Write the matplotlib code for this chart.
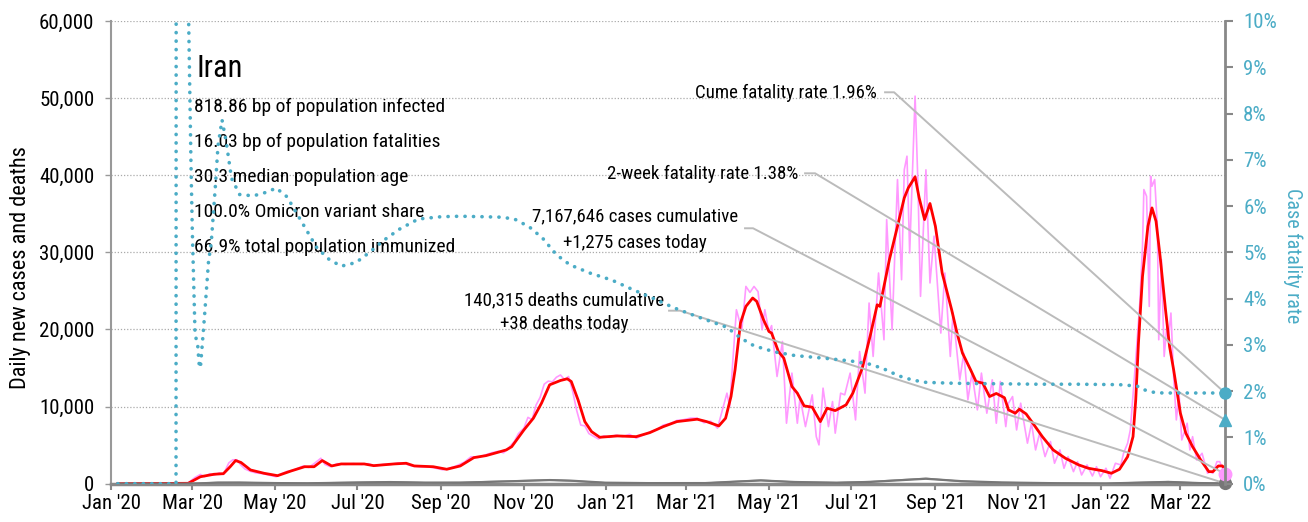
import matplotlib
matplotlib.use("Agg")
import matplotlib.pyplot as plt
import matplotlib.dates as mdates
from matplotlib import font_manager as fm
from matplotlib.ticker import FuncFormatter, MultipleLocator
import pandas as pd

# pick a narrow sans face if one is installed
entries = fm.fontManager.ttflist
names = {e.name for e in entries}
font_name, font_stretch = "Roboto", "normal"
for cand in ["Roboto Condensed", "Liberation Sans Narrow", "Noto Sans Condensed",
             "Open Sans Condensed", "DejaVu Sans Condensed"]:
    if cand in names:
        font_name = cand
        break
else:
    for pref in ["Noto Sans", "Open Sans", "Roboto", "DejaVu Sans"]:
        hits = [e for e in entries if e.name == pref and e.style == "normal"
                and e.stretch in ("condensed", "semi-condensed")]
        if hits:
            font_name, font_stretch = pref, hits[0].stretch
            break
plt.rcParams['font.family'] = [font_name, 'DejaVu Sans']
plt.rcParams['font.stretch'] = font_stretch

# 7-day average of daily new cases
avg_dates = [
    "2020-01-06", "2020-02-27", "2020-03-07", "2020-03-17", "2020-03-24", "2020-03-29", "2020-04-02",
    "2020-04-06", "2020-04-13", "2020-04-23", "2020-05-03", "2020-05-13", "2020-05-23", "2020-05-30",
    "2020-06-05", "2020-06-12", "2020-06-19", "2020-07-06", "2020-07-13", "2020-07-28", "2020-08-06",
    "2020-08-12", "2020-08-26", "2020-09-05", "2020-09-15", "2020-09-25", "2020-10-04", "2020-10-12",
    "2020-10-19", "2020-10-23", "2020-11-01", "2020-11-08", "2020-11-14", "2020-11-20", "2020-11-28",
    "2020-12-03", "2020-12-06", "2020-12-11", "2020-12-16", "2020-12-21", "2020-12-27", "2021-01-09",
    "2021-01-23", "2021-02-02", "2021-02-12", "2021-02-22", "2021-03-09", "2021-03-16", "2021-03-25",
    "2021-03-30", "2021-04-03", "2021-04-06", "2021-04-10", "2021-04-14", "2021-04-19", "2021-04-22",
    "2021-04-27", "2021-05-01", "2021-05-03", "2021-05-08", "2021-05-12", "2021-05-18", "2021-05-22",
    "2021-05-27", "2021-06-02", "2021-06-08", "2021-06-13", "2021-06-19", "2021-06-27", "2021-07-02",
    "2021-07-09", "2021-07-15", "2021-07-20", "2021-07-22", "2021-07-29", "2021-08-04", "2021-08-09",
    "2021-08-12", "2021-08-17", "2021-08-20", "2021-08-24", "2021-08-28", "2021-09-01", "2021-09-06",
    "2021-09-13", "2021-09-17", "2021-09-21", "2021-09-27", "2021-10-01", "2021-10-06", "2021-10-11",
    "2021-10-16", "2021-10-22", "2021-10-25", "2021-10-30", "2021-11-02", "2021-11-07", "2021-11-12",
    "2021-11-19", "2021-11-27", "2021-12-06", "2021-12-16", "2021-12-23", "2022-01-02", "2022-01-09",
    "2022-01-15", "2022-01-21", "2022-01-25", "2022-01-27", "2022-01-29", "2022-02-01", "2022-02-05",
    "2022-02-08", "2022-02-11", "2022-02-14", "2022-02-18", "2022-02-21", "2022-02-24", "2022-03-01",
    "2022-03-05", "2022-03-10", "2022-03-16", "2022-03-22", "2022-03-25", "2022-03-29", "2022-04-01",
    "2022-04-03",
]
avg_cases = [
    0, 50, 900, 1220, 1300, 2200, 3000,
    2750, 1780, 1350, 1040, 1650, 2200, 2200,
    3000, 2300, 2560, 2560, 2340, 2560, 2650,
    2300, 2200, 1870, 2300, 3380, 3640, 4030,
    4380, 4800, 6970, 8490, 10440, 12820, 13380,
    13600, 13250, 10870, 8050, 6750, 6020, 6190,
    6100, 6620, 7400, 8050, 8360, 8050, 7490,
    8490, 11300, 14770, 20830, 22990, 24080, 23640,
    21260, 19740, 19530, 17140, 16280, 12600, 11740,
    10090, 9920, 8050, 9790, 9480, 10220, 11740,
    14990, 19300, 23200, 22990, 29050, 33380, 37060,
    38360, 39790, 37060, 34250, 36330, 33380, 27320,
    22560, 19530, 16930, 14770, 13250, 13040, 11300,
    11700, 11150, 9570, 9140, 9660, 9050, 7840,
    6100, 4380, 3300, 2430, 2000, 1690, 1350,
    1870, 3500, 6100, 10870, 18230, 26880, 33380,
    35760, 34030, 29480, 22560, 17790, 14770, 9140,
    6550, 4800, 3080, 1560, 1560, 2300, 2300,
    1900,
]

# reported daily new cases
raw_dates = [
    "2020-01-06", "2020-02-19", "2020-02-27", "2020-03-03", "2020-03-07", "2020-03-10", "2020-03-14",
    "2020-03-17", "2020-03-21", "2020-03-24", "2020-03-28", "2020-03-31", "2020-04-03", "2020-04-06",
    "2020-04-09", "2020-04-13", "2020-04-17", "2020-04-22", "2020-04-27", "2020-05-02", "2020-05-06",
    "2020-05-10", "2020-05-14", "2020-05-18", "2020-05-22", "2020-05-26", "2020-05-30", "2020-06-04",
    "2020-06-07", "2020-06-11", "2020-06-16", "2020-06-22", "2020-06-28", "2020-07-04", "2020-07-09",
    "2020-07-14", "2020-07-20", "2020-07-26", "2020-07-31", "2020-08-05", "2020-08-10", "2020-08-16",
    "2020-08-22", "2020-08-28", "2020-09-02", "2020-09-07", "2020-09-12", "2020-09-18", "2020-09-23",
    "2020-09-28", "2020-10-03", "2020-10-08", "2020-10-13", "2020-10-17", "2020-10-21", "2020-10-25",
    "2020-10-28", "2020-11-01", "2020-11-04", "2020-11-07", "2020-11-10", "2020-11-13", "2020-11-16",
    "2020-11-19", "2020-11-22", "2020-11-25", "2020-11-28", "2020-12-01", "2020-12-04", "2020-12-07",
    "2020-12-10", "2020-12-13", "2020-12-16", "2020-12-19", "2020-12-22", "2020-12-26", "2020-12-30",
    "2021-01-03", "2021-01-08", "2021-01-13", "2021-01-18", "2021-01-23", "2021-01-28", "2021-02-02",
    "2021-02-07", "2021-02-12", "2021-02-17", "2021-02-22", "2021-02-27", "2021-03-04", "2021-03-09",
    "2021-03-14", "2021-03-19", "2021-03-24", "2021-03-28", "2021-03-31", "2021-04-02", "2021-04-07",
    "2021-04-11", "2021-04-14", "2021-04-17", "2021-04-20", "2021-04-23", "2021-04-26", "2021-04-28",
    "2021-05-01", "2021-05-03", "2021-05-07", "2021-05-11", "2021-05-14", "2021-05-18", "2021-05-22",
    "2021-05-24", "2021-05-28", "2021-06-02", "2021-06-05", "2021-06-07", "2021-06-10", "2021-06-14",
    "2021-06-17", "2021-06-19", "2021-06-23", "2021-06-26", "2021-06-30", "2021-07-04", "2021-07-07",
    "2021-07-11", "2021-07-14", "2021-07-17", "2021-07-21", "2021-07-25", "2021-07-27", "2021-07-31",
    "2021-08-04", "2021-08-07", "2021-08-09", "2021-08-11", "2021-08-13", "2021-08-17", "2021-08-19",
    "2021-08-21", "2021-08-25", "2021-08-28", "2021-08-31", "2021-09-05", "2021-09-08", "2021-09-12",
    "2021-09-14", "2021-09-19", "2021-09-22", "2021-09-25", "2021-09-28", "2021-10-02", "2021-10-05",
    "2021-10-09", "2021-10-13", "2021-10-16", "2021-10-19", "2021-10-23", "2021-10-25", "2021-10-28",
    "2021-10-31", "2021-11-03", "2021-11-08", "2021-11-11", "2021-11-14", "2021-11-17", "2021-11-21",
    "2021-11-25", "2021-11-28", "2021-12-02", "2021-12-05", "2021-12-08", "2021-12-12", "2021-12-15",
    "2021-12-18", "2021-12-22", "2021-12-26", "2021-12-29", "2022-01-01", "2022-01-05", "2022-01-08",
    "2022-01-12", "2022-01-16", "2022-01-18", "2022-01-21", "2022-01-23", "2022-01-27", "2022-01-30",
    "2022-02-01", "2022-02-02", "2022-02-04", "2022-02-06", "2022-02-07", "2022-02-08", "2022-02-10",
    "2022-02-12", "2022-02-13", "2022-02-15", "2022-02-17", "2022-02-19", "2022-02-20", "2022-02-22",
    "2022-02-24", "2022-02-26", "2022-02-28", "2022-03-02", "2022-03-06", "2022-03-08", "2022-03-10",
    "2022-03-13", "2022-03-17", "2022-03-21", "2022-03-23", "2022-03-25", "2022-03-28", "2022-03-30",
    "2022-04-03",
]
raw_cases = [
    0, 0, 100, 800, 1200, 900, 1300,
    1100, 1400, 1200, 2700, 3100, 3100, 2400,
    1900, 1600, 1400, 1300, 1100, 900, 1300,
    1600, 1700, 2000, 2300, 2100, 2600, 3300,
    2500, 2200, 2600, 2500, 2600, 2500, 2600,
    2300, 2500, 2500, 2700, 2600, 2300, 2200,
    2200, 2000, 1800, 2000, 2300, 2800, 3500,
    3400, 3700, 4000, 4200, 4000, 4700, 5500,
    6500, 7200, 8600, 8300, 10200, 11200, 12900,
    13300, 13200, 13800, 14100, 13500, 13900, 12000,
    9500, 7600, 7500, 6500, 6200, 5800, 6200,
    6000, 6300, 6100, 6400, 5900, 6300, 6700,
    7000, 7600, 7800, 8200, 8300, 8500, 8500,
    7900, 8100, 7200, 9800, 11740, 10000, 22560,
    19960, 25580, 24800, 25580, 24900, 19960, 22560,
    19700, 20500, 13900, 18440, 7840, 14340, 7840,
    11200, 7400, 11520, 6100, 5030, 12390, 7400,
    10650, 6550, 11740, 11520, 14340, 8270, 17140,
    11740, 23430, 16500, 27320, 18660, 34250, 19960,
    39440, 26450, 40700, 42470, 29920, 50260, 39440,
    24290, 40700, 26030, 32100, 19530, 27320, 16500,
    22130, 13470, 16930, 10870, 14340, 9570, 14340,
    9140, 13470, 7840, 13250, 7400, 10440, 11300,
    6970, 10440, 5250, 7840, 4380, 6550, 3510,
    5460, 2650, 4380, 2000, 3510, 1560, 2860,
    1130, 2430, 1000, 2200, 900, 2000, 700,
    2650, 2430, 3940, 5250, 6970, 16060, 23430,
    30780, 38140, 37270, 22990, 39870, 38570, 39440,
    33380, 18660, 29050, 16500, 20400, 18660, 22130,
    13900, 8270, 11740, 5670, 7840, 4380, 6100,
    3080, 3940, 1350, 1560, 1350, 2860, 2860,
    1275,
]

# daily deaths, reported and 7-day average
death_dates = [
    "2020-01-06", "2020-02-25", "2020-03-05", "2020-03-20", "2020-04-05", "2020-05-01", "2020-05-25",
    "2020-06-30", "2020-07-25", "2020-08-20", "2020-09-15", "2020-10-20", "2020-11-20", "2020-12-05",
    "2020-12-31", "2021-02-01", "2021-03-15", "2021-04-25", "2021-05-20", "2021-06-20", "2021-07-15",
    "2021-08-25", "2021-09-20", "2021-10-20", "2021-11-30", "2022-01-05", "2022-02-20", "2022-03-15",
    "2022-04-03",
]
deaths_avg = [
    0, 0, 30, 140, 150, 80, 50,
    150, 210, 140, 130, 300, 470, 400,
    130, 75, 80, 420, 220, 120, 230,
    640, 330, 160, 60, 25, 230, 80,
    38,
]
deaths_raw = [
    0, 0, 60, 150, 140, 70, 60,
    170, 230, 120, 160, 330, 480, 370,
    110, 90, 70, 450, 200, 140, 260,
    680, 300, 140, 50, 30, 250, 70,
    38,
]

# cumulative case fatality rate, percent
cfr_dates = [
    "2020-01-06", "2020-02-18", "2020-02-19", "2020-02-26", "2020-02-27", "2020-02-28", "2020-02-29",
    "2020-03-01", "2020-03-02", "2020-03-03", "2020-03-04", "2020-03-05", "2020-03-06", "2020-03-07",
    "2020-03-10", "2020-03-13", "2020-03-15", "2020-03-18", "2020-03-20", "2020-03-23", "2020-03-26",
    "2020-03-30", "2020-04-05", "2020-04-15", "2020-04-25", "2020-05-02", "2020-05-10", "2020-05-20",
    "2020-06-01", "2020-06-10", "2020-06-19", "2020-06-30", "2020-07-10", "2020-07-20", "2020-08-01",
    "2020-08-15", "2020-09-01", "2020-09-15", "2020-10-01", "2020-10-15", "2020-10-25", "2020-11-05",
    "2020-11-15", "2020-11-25", "2020-12-05", "2020-12-20", "2021-01-05", "2021-01-20", "2021-02-05",
    "2021-02-20", "2021-03-10", "2021-03-31", "2021-04-10", "2021-04-20", "2021-05-05", "2021-05-20",
    "2021-06-15", "2021-07-01", "2021-07-15", "2021-07-25", "2021-08-05", "2021-08-15", "2021-08-25",
    "2021-09-15", "2021-10-15", "2021-11-15", "2021-12-15", "2022-01-15", "2022-01-28", "2022-02-01",
    "2022-02-08", "2022-02-16", "2022-03-10", "2022-04-03",
]
cfr_pct = [
    0, 0, 100, 13.7, 10.6, 8.8, 7.0,
    5.5, 4.4, 3.3, 3.1, 3.0, 2.6, 2.5,
    3.6, 4.8, 5.2, 6.4, 7.3, 7.86, 7.4,
    6.6, 6.25, 6.22, 6.3, 6.39, 6.2, 5.7,
    5.1, 4.85, 4.7, 4.78, 5.0, 5.25, 5.5,
    5.72, 5.77, 5.78, 5.77, 5.76, 5.72, 5.55,
    5.3, 4.95, 4.73, 4.55, 4.4, 4.2, 4.0,
    3.8, 3.6, 3.38, 3.15, 2.98, 2.85, 2.77,
    2.7, 2.65, 2.58, 2.48, 2.33, 2.24, 2.19,
    2.17, 2.16, 2.15, 2.15, 2.14, 2.11, 2.04,
    1.98, 1.96, 1.96, 1.96,
]

last_day = "2022-04-03"
cume_fatality = 1.96
two_week_fatality = 1.38
cases_cumulative = 7167646
cases_today = 1275
deaths_cumulative = 140315
deaths_today = 38

country = "Iran"
stats = [
    "818.86 bp of population infected",
    "16.03 bp of population fatalities",
    "30.3 median population age",
    "100.0% Omicron variant share",
    "66.9% total population immunized",
]

TEAL = "#4bacc6"
PINK = "#ff99ff"
GREY = "#888888"
TICK_FS = 15
NOTE_FS = 13.6

fig = plt.figure(figsize=(13.08, 5.22), dpi=100)
ax = fig.add_axes([0.0849, 0.0734, 0.8517, 0.8864])
ax2 = ax.twinx()

end = pd.Timestamp(last_day)

ax.plot(pd.to_datetime(raw_dates), raw_cases, color=PINK, lw=1.2, zorder=2)
ax.plot(pd.to_datetime(avg_dates), avg_cases, color="red", lw=2.0, zorder=3)
ax.plot(pd.to_datetime(death_dates), deaths_raw, color="#999999", lw=1.2, zorder=3)
ax.plot(pd.to_datetime(death_dates), deaths_avg, color="#777777", lw=1.6, zorder=3)

ax2.plot(pd.to_datetime(cfr_dates), cfr_pct, color=TEAL, lw=2.6,
         linestyle=(0, (0.05, 2.3)), dash_capstyle="round")

ax.set_xlim(pd.Timestamp("2020-01-01"), end)
ax.set_ylim(0, 60000)
ax2.set_ylim(0, 10)

# end-of-series markers
ax.plot([end], [deaths_today], "o", color="#777777", ms=8.5, clip_on=False, zorder=6)
ax.plot([end], [cases_today], "o", color=PINK, ms=9, clip_on=False, zorder=6)
ax2.plot([end], [cume_fatality], "o", color=TEAL, ms=8, clip_on=False, zorder=6)
ax2.plot([end], [two_week_fatality], "^", color=TEAL, ms=8.5, clip_on=False, zorder=6)

# axes styling
ax.yaxis.set_major_locator(MultipleLocator(10000))
ax.yaxis.set_major_formatter(FuncFormatter(lambda v, p: f"{int(v):,}"))
ax2.yaxis.set_major_locator(MultipleLocator(1))
ax2.yaxis.set_major_formatter(FuncFormatter(lambda v, p: f"{int(round(v))}%"))
ax.xaxis.set_major_locator(mdates.MonthLocator(bymonth=[1, 3, 5, 7, 9, 11]))
ax.xaxis.set_major_formatter(mdates.DateFormatter("%b '%y"))

ax.yaxis.grid(True, linestyle=(0, (1, 1.5)), color="#aaaaaa", lw=0.9)
ax.set_axisbelow(True)

for a in (ax, ax2):
    a.spines["top"].set_visible(False)
ax.spines["right"].set_visible(False)
ax2.spines["left"].set_visible(False)
ax2.spines["bottom"].set_visible(False)
ax.spines["left"].set_color("#999999")
ax.spines["left"].set_linewidth(1.5)
ax.spines["bottom"].set_color(GREY)
ax.spines["bottom"].set_linewidth(2.5)
ax2.spines["right"].set_color(GREY)
ax2.spines["right"].set_linewidth(2)

ax.tick_params(axis="y", length=4, width=1, color="#999999", labelsize=TICK_FS, pad=8)
ax.tick_params(axis="x", length=4.5, width=1.5, color=GREY, labelsize=TICK_FS, pad=3)
ax2.tick_params(axis="y", length=6, width=1.5, color=GREY, labelcolor=TEAL, labelsize=TICK_FS, pad=7)

# nudge the zero label up a touch so it clears the first date label
ax.get_yticklabels()[0].set_va("bottom")

fig.text(0.0153, 0.488, "Daily new cases and deaths", rotation=90, ha="center", va="center",
         fontsize=16)
fig.text(0.988, 0.511, "Case fatality rate", rotation=270, ha="center", va="center",
         fontsize=14.5, color=TEAL)

# country summary block
ax.text(0.0763, 0.898, country, transform=ax.transAxes, fontsize=22, va="center", ha="left")
for i, line in enumerate(stats):
    ax.text(0.0748, 0.8148 - i * 0.0757, line, transform=ax.transAxes, fontsize=14,
            va="center", ha="left")

# labels with leader lines to the end markers
def leader(start, elbow, target_axes, target_val):
    disp = target_axes.transData.transform((mdates.date2num(end), target_val))
    tx, ty = ax.transAxes.inverted().transform(disp)
    ax.plot([start[0], elbow, tx], [start[1], start[1], ty], color="#bbbbbb", lw=1.4,
            transform=ax.transAxes, clip_on=False, zorder=4)

ax.text(0.6876, 0.8437, f"Cume fatality rate {cume_fatality:.2f}%", transform=ax.transAxes,
        fontsize=NOTE_FS, ha="right", va="center")
leader((0.6948, 0.8459), 0.7029, ax2, cume_fatality)

ax.text(0.6170, 0.6687, f"2-week fatality rate {two_week_fatality:.2f}%", transform=ax.transAxes,
        fontsize=NOTE_FS, ha="right", va="center")
leader((0.6230, 0.6708), 0.6320, ax2, two_week_fatality)

ax.text(0.4700, 0.5770, f"{cases_cumulative:,} cases cumulative", transform=ax.transAxes,
        fontsize=NOTE_FS, ha="center", va="center")
ax.text(0.4700, 0.5209, f"+{cases_today:,} cases today", transform=ax.transAxes,
        fontsize=NOTE_FS, ha="center", va="center")
leader((0.5691, 0.5520), 0.5763, ax, cases_today)

ax.text(0.4066, 0.3970, f"{deaths_cumulative:,} deaths cumulative", transform=ax.transAxes,
        fontsize=NOTE_FS, ha="center", va="center")
ax.text(0.4066, 0.3445, f"+{deaths_today:,} deaths today", transform=ax.transAxes,
        fontsize=NOTE_FS, ha="center", va="center")
leader((0.5009, 0.3739), 0.5108, ax, deaths_today)

fig.savefig("out.png", dpi=100)
